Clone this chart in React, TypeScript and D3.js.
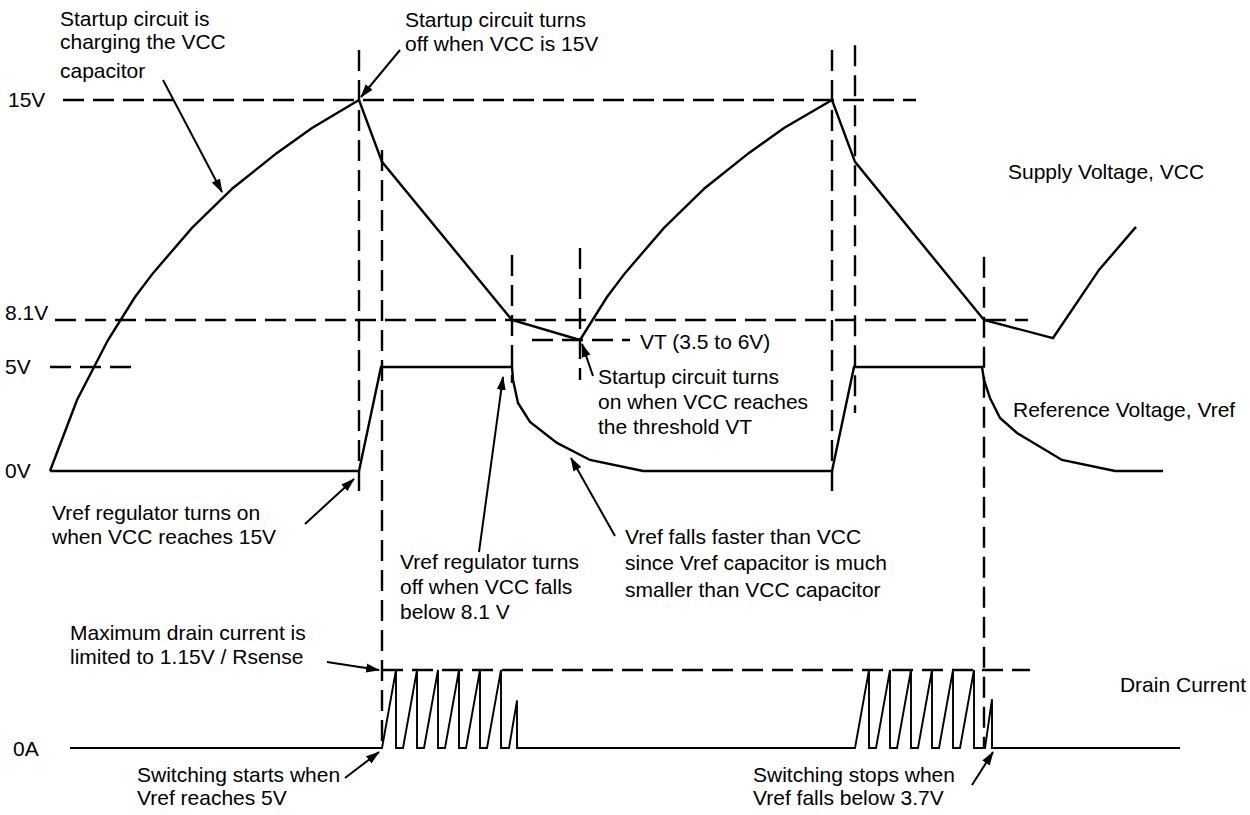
import React from 'react';
import * as d3 from 'd3';

// schematic time axis (ms) and voltages
const vccTime = [0, 2.7, 5.8, 8.5, 10.3, 14.2, 18.3, 22.7, 26.2, 30.9, 33.2, 46.2, 53.0, 55.7, 57.5, 61.4, 65.5, 69.9, 73.4, 78.2, 80.5, 93.4, 100.3, 104.9, 108.6];
const vccVolts = [0, 3.41, 6.78, 8.82, 9.57, 10.99, 12.24, 13.34, 14.12, 15, 13.06, 8.1, 6.78, 8.82, 9.57, 10.99, 12.24, 13.34, 14.12, 15, 13.06, 8.1, 6.91, 9.67, 11.02];

const vrefTime = [0, 30.9, 33.1, 46.2, 46.3, 46.8, 48.0, 50.7, 54.0, 59.3, 78.2, 80.4, 93.2, 93.4, 94.0, 95.0, 96.7, 101.2, 106.5, 111.3];
const vrefVolts = [0, 0, 5, 5, 4.38, 3.27, 2.36, 1.35, 0.53, 0, 0, 5, 5, 4.38, 3.51, 2.55, 1.83, 0.53, 0, 0];

// drain current pulses (units of 1.15V/Rsense): ramp start, ramp end, peak
const pulseStart = [33.2, 35.3, 37.4, 39.5, 41.6, 43.7, 45.9, 80.5, 82.6, 84.7, 86.8, 88.9, 91.0, 93.5];
const pulseEnd = [34.6, 36.7, 38.8, 40.9, 43.0, 45.1, 46.7, 81.9, 84.0, 86.1, 88.2, 90.3, 92.4, 94.2];
const pulsePeak = [1.15, 1.15, 1.15, 1.15, 1.15, 1.15, 0.7, 1.15, 1.15, 1.15, 1.15, 1.15, 1.15, 0.72];
const drainSpan = [2.0, 113.0];

const levelNames = ['15V', '8.1V', '5V', '0V'];
const levelVolts = [15, 8.1, 5, 0];
const vtVolts = 6.78;
const limitAmps = 1.15;

// dashed guides: [volts, tStart, tEnd]
const hGuides: [number, number, number][] = [
  [15, 1.3, 86.6],
  [8.1, 0.5, 97.8],
  [5, 0, 9.0],
  [vtVolts, 48.2, 58.0],
];
// vertical guides: time, top volts, bottom (volts or drain baseline)
const vGuides: { t: number; top: number; bottom: number | 'drain' }[] = [
  { t: 30.9, top: 16.57, bottom: -1.39 },
  { t: 33.2, top: 13.43, bottom: 'drain' },
  { t: 46.2, top: 10.14, bottom: 4.23 },
  { t: 53.0, top: 10.36, bottom: 4.38 },
  { t: 78.2, top: 16.57, bottom: -1.01 },
  { t: 80.5, top: 16.72, bottom: 2.79 },
  { t: 93.4, top: 10.08, bottom: 'drain' },
];

const notes: [number, number, string][] = [
  [60, 26, 'Startup circuit is'],
  [60, 49, 'charging the VCC'],
  [60, 78, 'capacitor'],
  [405, 27, 'Startup circuit turns'],
  [405, 51, 'off when VCC is 15V'],
  [1008, 179, 'Supply Voltage, VCC'],
  [640, 349, 'VT (3.5 to 6V)'],
  [598, 384, 'Startup circuit turns'],
  [598, 409, 'on when VCC reaches'],
  [598, 434, 'the threshold VT'],
  [1013, 417, 'Reference Voltage, Vref'],
  [52, 520, 'Vref regulator turns on'],
  [52, 544, 'when VCC reaches 15V'],
  [400, 569, 'Vref regulator turns'],
  [400, 594, 'off when VCC falls'],
  [400, 619, 'below 8.1 V'],
  [625, 544, 'Vref falls faster than VCC'],
  [625, 570, 'since Vref capacitor is much'],
  [625, 597, 'smaller than VCC capacitor'],
  [70, 640, 'Maximum drain current is'],
  [70, 664, 'limited to 1.15V / Rsense'],
  [137, 782, 'Switching starts when'],
  [137, 805, 'Vref reaches 5V'],
  [753, 782, 'Switching stops when'],
  [753, 805, 'Vref falls below 3.7V'],
];

const arrows: [number, number, number, number][] = [
  [163, 80, 222, 192],
  [400, 50, 361, 97],
  [593, 376, 582, 344],
  [305, 524, 354, 479],
  [479, 552, 503, 377],
  [615, 536, 571, 458],
  [327, 662, 379, 670],
  [345, 778, 379, 752],
  [972, 785, 993, 752],
];

const FONT = '"Liberation Sans", Arial, Helvetica, sans-serif';

export default function App() {
  const x = d3.scaleLinear().domain([0, 110]).range([50, 1150]);
  const yV = d3.scaleLinear().domain([0, 5, 8.1, 15]).range([471, 367, 320, 100]);
  const yI = d3.scaleLinear().domain([0, 1.15]).range([748, 670]);

  const line = d3.line<[number, number]>().x(d => d[0]).y(d => d[1]);

  const vccPath = line(vccTime.map((t, i) => [x(t), yV(vccVolts[i])]));
  const vrefPath = line(vrefTime.map((t, i) => [x(t), yV(vrefVolts[i])]));

  const drainPts: [number, number][] = [[x(drainSpan[0]), yI(0)]];
  pulseStart.forEach((t, i) => {
    drainPts.push([x(t), yI(0)]);
    drainPts.push([x(pulseEnd[i]), yI(pulsePeak[i])]);
    drainPts.push([x(pulseEnd[i]), yI(0)]);
  });
  drainPts.push([x(drainSpan[1]), yI(0)]);
  const drainPath = line(drainPts);

  const dash = '21,9';
  const sw = 2.4;

  return (
    <svg width={1250} height={815} style={{ display: 'block', position: 'absolute', left: 0, top: 0, background: '#fff' }}>
      <defs>
        <marker id="ah" markerUnits="userSpaceOnUse" markerWidth={14} markerHeight={10} refX={13} refY={5} orient="auto">
          <path d="M0,0.5 L14,5 L0,9.5 Z" fill="#000" />
        </marker>
      </defs>
      <rect x={0} y={0} width={1250} height={815} fill="#fff" />

      {/* dashed guides */}
      <g stroke="#000" strokeWidth={sw} strokeDasharray={dash} fill="none">
        {hGuides.map(([v, t0, t1], i) => (
          <line key={'h' + i} x1={x(t0)} x2={x(t1)} y1={yV(v)} y2={yV(v)} />
        ))}
        <line x1={x(33.2)} x2={x(98.0)} y1={yI(limitAmps)} y2={yI(limitAmps)} />
        {vGuides.map((g, i) => (
          <line key={'v' + i} x1={x(g.t)} x2={x(g.t)} y1={yV(g.top)}
            y2={g.bottom === 'drain' ? yI(0) : yV(g.bottom)} />
        ))}
      </g>

      {/* waveforms */}
      <g stroke="#000" strokeWidth={sw} fill="none" strokeLinejoin="miter">
        <path d={vccPath || ''} />
        <path d={vrefPath || ''} />
        <path d={drainPath || ''} strokeWidth={1.9} />
      </g>

      {/* labels */}
      <g fontFamily={FONT} fontSize={21} fill="#000">
        {levelNames.map((n, i) => (
          <text key={n} x={n === '15V' ? 8 : 5} y={yV(levelVolts[i]) + (n === '8.1V' ? 0 : 7)}>{n}</text>
        ))}
        <text x={13} y={yI(0) + 8}>0A</text>
        {notes.map(([nx, ny, s], i) => (
          <text key={'n' + i} x={nx} y={ny}>{s}</text>
        ))}
        <text x={1246} y={692} textAnchor="end">Drain Current</text>
      </g>

      {/* arrows */}
      <g stroke="#000" strokeWidth={2}>
        {arrows.map(([x1, y1, x2, y2], i) => (
          <line key={'a' + i} x1={x1} y1={y1} x2={x2} y2={y2} markerEnd="url(#ah)" />
        ))}
      </g>
    </svg>
  );
}
